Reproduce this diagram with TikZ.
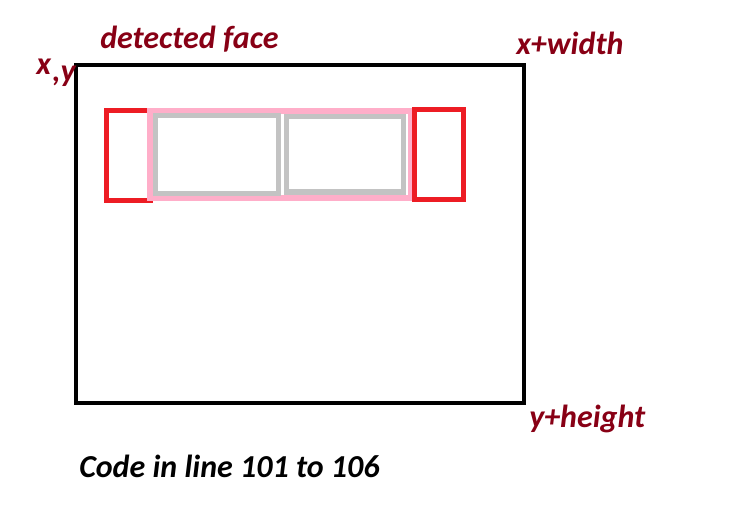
\documentclass[tikz,border=0pt]{standalone}
\usepackage{fontspec}
\setmainfont{Carlito}
\definecolor{darkred}{HTML}{880015}
\definecolor{pred}{HTML}{ED1C24}
\definecolor{ppink}{HTML}{FFAEC9}
\definecolor{pgray}{HTML}{C3C3C3}
\begin{document}
\begin{tikzpicture}[x=0.75pt,y=-0.75pt,
  lbl/.style={anchor=base west,inner sep=0pt,text=darkred,font=\fontsize{24}{26}\selectfont\bfseries\itshape},
  codelbl/.style={lbl,text=black},
  facebox/.style={draw=black,line width=3.2pt},
  eyeend/.style={draw=pred,line width=3.8pt},
  eyeband/.style={draw=ppink,line width=3.8pt},
  eyebox/.style={draw=pgray,line width=3.8pt}]
\useasboundingbox (0,0) rectangle (750,513);
\draw[facebox] (76,65) rectangle (524,403);
\draw[eyeend] (106.5,110.5) rectangle (150,200.5);
\draw[eyeband] (150,111) rectangle (411,198);
\draw[eyeend] (414.5,109.5) rectangle (463.5,199.5);
\draw[eyebox] (155.5,115.5) rectangle (278.5,193.5);
\draw[eyebox] (286.5,116.5) rectangle (403.5,192);
\node[lbl] (df) at (100,49) {detected face};
\node[lbl] (x) at (36,75) {x};
\node[lbl] (y) at (52,82) {,y};
\node[lbl] (xw) at (516,55) {x+width};
\node[lbl] (yh) at (529,427) {y+height};
\node[codelbl] (code) at (79,477) {Code in line 101 to 106};
\end{tikzpicture}
\end{document}
